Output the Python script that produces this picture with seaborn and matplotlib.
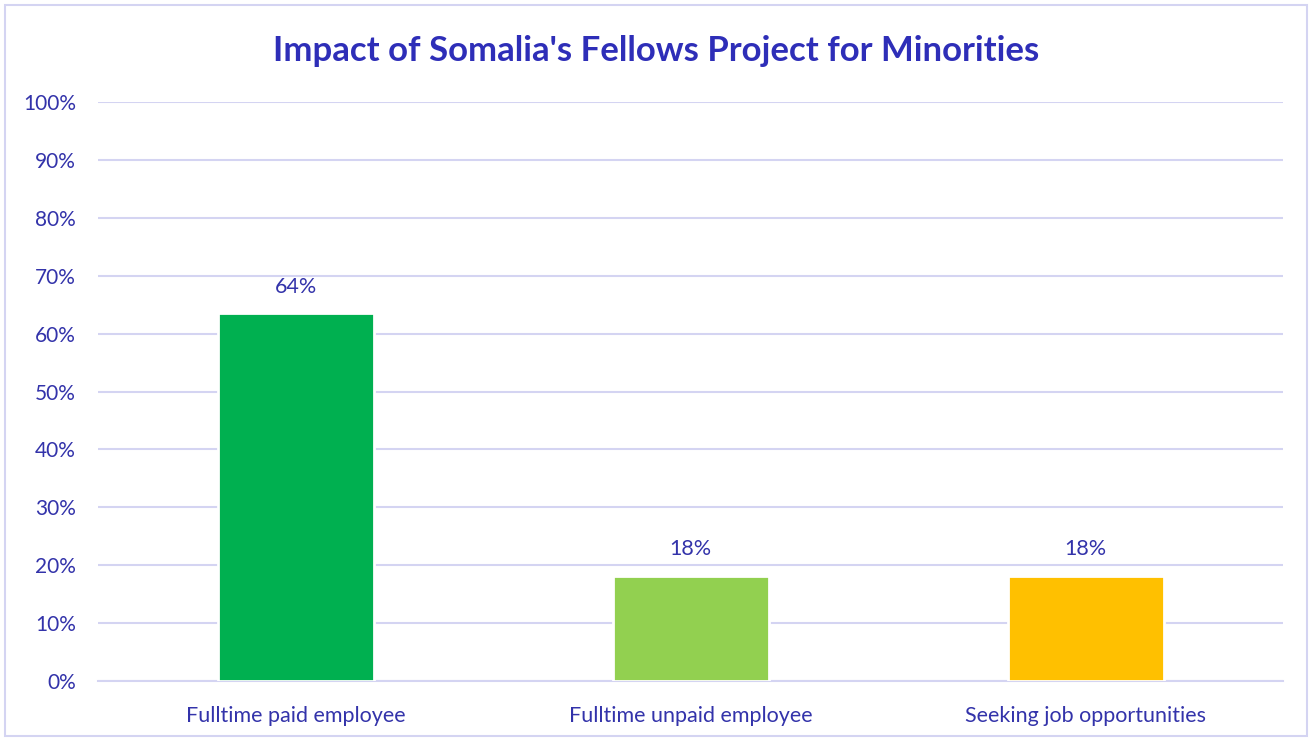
import matplotlib
matplotlib.use("Agg")
import matplotlib.pyplot as plt
import seaborn as sns
import pandas as pd
import numpy as np
from matplotlib.patches import Rectangle
from matplotlib.ticker import PercentFormatter, FixedLocator

categories = ["Fulltime paid employee", "Fulltime unpaid employee", "Seeking job opportunities"]
values = [0.636, 0.182, 0.182]
colors = ["#00B050", "#92D050", "#FFC000"]
title = "Impact of Somalia's Fellows Project for Minorities"

text_color = "#3333AA"
grid_color = "#D4D4F2"

sns.set_theme(style="white")
plt.rcParams["font.family"] = ["Lato", "DejaVu Sans"]

df = pd.DataFrame({"category": categories, "value": values})

fig = plt.figure(figsize=(13.12, 7.38), dpi=100)
ax = fig.add_axes([0.0747, 0.0772, 0.9033, 0.7846])

sns.barplot(data=df, x="category", y="value", hue="category", palette=colors,
            saturation=1, legend=False, width=0.395, edgecolor="white", linewidth=2,
            ax=ax, zorder=3)

ax.set_ylim(0, 1.0)
ax.set_xlim(-0.5, 2.5)
ax.yaxis.set_major_locator(FixedLocator(np.arange(0, 1.01, 0.1)))
ax.yaxis.set_major_formatter(PercentFormatter(1.0, decimals=0))
ax.grid(axis="y", color=grid_color, linewidth=1.5, zorder=0)
ax.set_axisbelow(True)

for s in ["top", "right", "left"]:
    ax.spines[s].set_visible(False)
ax.spines["bottom"].set_color(grid_color)
ax.spines["bottom"].set_linewidth(1.5)

ax.tick_params(axis="y", length=0, pad=16, labelsize=15, labelcolor=text_color)
ax.tick_params(axis="x", which="major", length=0, pad=18, labelsize=15.5, labelcolor=text_color)
ax.set_xticks([-0.5, 0.5, 1.5, 2.5], minor=True)
ax.tick_params(axis="x", which="minor", length=6, width=1.5, color=grid_color)
ax.set_xlabel("")
ax.set_ylabel("")

for i, v in enumerate(values):
    ax.text(i, v + 0.028, f"{round(v*100):.0f}%", ha="center", va="bottom",
            fontsize=15.5, color=text_color)

fig.text(0.5, 0.931, title, ha="center", va="center", fontsize=25,
         fontweight="bold", color="#2E2EB8")

fig.patches.append(Rectangle((0.004, 0.003), 0.992, 0.99, transform=fig.transFigure,
                             fill=False, edgecolor="#D4D4F2", linewidth=1.5))

fig.savefig("out.png", dpi=100)
